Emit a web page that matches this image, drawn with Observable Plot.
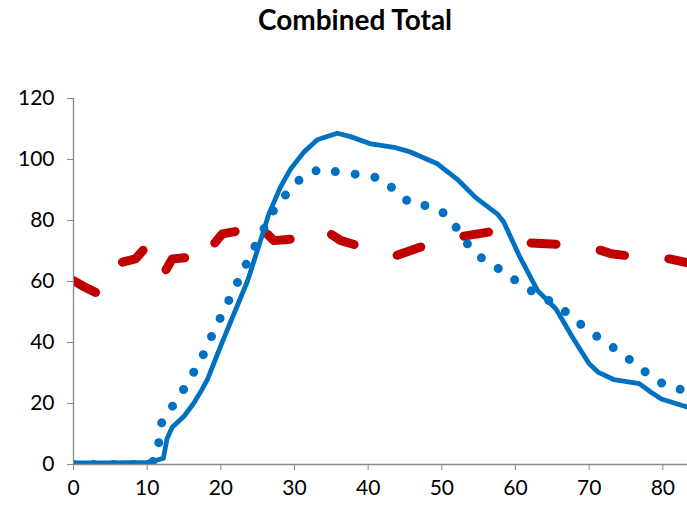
<!DOCTYPE html>
<html>
<head>
<meta charset="utf-8">
<script src="https://cdn.jsdelivr.net/npm/d3@7"></script>
<script src="https://cdn.jsdelivr.net/npm/@observablehq/plot@0.6"></script>
<style>
  html, body { margin: 0; padding: 0; background: #fff; }
  #wrap { position: relative; width: 687px; height: 508px; }
  #title { position: absolute; left: 0; top: 2px; width: 710px; text-align: center;
           font-family: Lato, "Open Sans", sans-serif; font-weight: bold; font-size: 28px; line-height: 34px; color: #000; }
  #chart { position: absolute; left: 0; top: 40px; }
</style>
</head>
<body>
<div id="wrap">
  <div id="title"></div>
  <div id="chart"></div>
</div>
<script>
const titleText = "Combined Total";
const xTicks = [0, 10, 20, 30, 40, 50, 60, 70, 80];
const yTicks = [0, 20, 40, 60, 80, 100, 120];

// Solid blue series
const solidX = [0, 5, 10, 11.1, 12.2, 12.7, 13.4, 15, 16.3, 17.3, 18.2, 20, 21.8, 23.6, 25, 26.5, 28.1, 29.5, 31.3, 33.1, 35.8, 37.6, 40.4, 43.5, 45.8, 49.4, 52.1, 54.6, 57.6, 58.4, 60.5, 63, 65.5, 67.8, 70, 71.2, 73.4, 76.8, 78.4, 79.8, 83.4];
const solidY = [0.5, 0.5, 0.7, 1.3, 2, 8.5, 12.2, 15.8, 20, 24, 28, 39, 49.5, 60, 70.5, 82, 91, 97, 102.5, 106.5, 108.6, 107.5, 105.1, 104, 102.4, 98.6, 93.5, 87.5, 82, 79.5, 68.5, 57, 51, 41.5, 33, 30.3, 27.8, 26.5, 23.7, 21.5, 18.8];

// Dotted blue series
const dottedX = [0, 10, 10.8, 11.5, 12, 13.6, 15.1, 16.5, 17.8, 18.9, 20.1, 21.3, 22.5, 23.7, 24.9, 26.2, 27.5, 29.3, 31.2, 33.7, 36.4, 39.1, 41.8, 43.8, 46, 48.6, 50.9, 52.4, 54, 56.1, 58.6, 60.7, 63, 65.5, 67.7, 69.8, 72.1, 74.3, 76.5, 78.7, 81, 83.4];
const dottedY = [0, 0, 1, 6, 14, 19.7, 25.2, 31, 36.8, 42.9, 48.9, 54.9, 60.9, 66.9, 72.9, 78.9, 84.8, 89.8, 94.7, 97, 95.6, 95, 93.8, 89.5, 85.1, 84.8, 81.5, 76.1, 70.5, 66.3, 63, 59, 55.7, 52.5, 48.4, 44, 40.3, 36.6, 32.5, 28.3, 25.1, 24.3];

// Dashed red series
const dashedX = [0, 1.5, 3.6, 6.6, 8.4, 9.8, 11.8, 12.5, 13.4, 15.2, 17.4, 19.1, 20.2, 22, 23.2, 25.2, 26.3, 27.2, 30.2, 32.5, 34.9, 36.3, 39, 43.8, 48.1, 52.8, 57.1, 62.1, 66.6, 71.6, 73, 75.7, 80.9, 83.4];
const dashedY = [60.3, 58.2, 55.7, 66.3, 67.4, 71.2, 61.8, 63.6, 67.4, 67.8, 65.3, 72.4, 75.6, 76.4, 79, 73.8, 75.6, 73.4, 74, 72.5, 75.6, 73.4, 71.5, 68.5, 72.1, 74.8, 76.5, 72.6, 72.1, 70.2, 69.1, 68.3, 67.4, 66.1];

const toRows = (xs, ys) => xs.map((x, i) => ({x, y: ys[i]}));
const solid = toRows(solidX, solidY);
const dotted = toRows(dottedX, dottedY);
const dashed = toRows(dashedX, dashedY);

document.getElementById("title").textContent = titleText;

const axisGray = "#898989";
const chart = Plot.plot({
  width: 687,
  height: 468,
  marginLeft: 73,
  marginRight: 0,
  marginTop: 58,
  marginBottom: 44,
  style: {fontFamily: "Lato, 'Open Sans', sans-serif", fontSize: "21px", color: "#000", background: "#fff"},
  x: {domain: [0, 83.35]},
  y: {domain: [0, 120]},
  marks: [
    Plot.lineY(dashed, {x: "x", y: "y", stroke: "#C00000", strokeWidth: 9, strokeDasharray: "25,44.5", strokeLinecap: "round", strokeLinejoin: "round", clip: true}),
    Plot.lineY(solid, {x: "x", y: "y", stroke: "#0070C0", strokeWidth: 4.8, strokeLinecap: "round", strokeLinejoin: "round", clip: true}),
    Plot.lineY(dotted, {x: "x", y: "y", stroke: "#0070C0", strokeWidth: 9, strokeDasharray: "0,20", strokeLinecap: "round", strokeLinejoin: "round", clip: true}),
    Plot.ruleX([0], {y1: 0, y2: 120, stroke: axisGray, strokeWidth: 1.3}),
    Plot.ruleY([0], {stroke: axisGray, strokeWidth: 1.3}),
    Plot.axisY({ticks: yTicks, tickSize: 6, tickPadding: 13, stroke: axisGray, fill: "#000", label: null}),
    Plot.axisX({ticks: xTicks, tickSize: 6, tickPadding: 10, stroke: axisGray, fill: "#000", label: null})
  ]
});
document.getElementById("chart").appendChild(chart);
</script>
</body>
</html>
